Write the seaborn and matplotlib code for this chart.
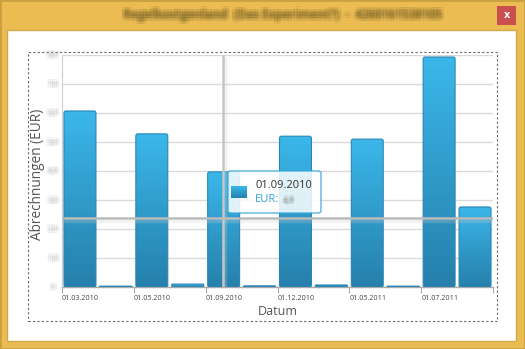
import numpy as np
import pandas as pd
import matplotlib
matplotlib.use("Agg")
import matplotlib.pyplot as plt
import matplotlib.transforms as mtransforms
import matplotlib.patheffects as pe
from matplotlib.patches import FancyBboxPatch, Rectangle
from matplotlib.colors import LinearSegmentedColormap
import seaborn as sns

# ---- data ----
dates = ["01.03.2010", "01.04.2010", "01.05.2010", "01.08.2010", "01.09.2010", "01.11.2010",
         "01.12.2010", "01.02.2011", "01.05.2011", "01.06.2011", "01.07.2011", "01.08.2011"]
values = [6.07, 0.03, 5.28, 0.10, 3.97, 0.04, 5.20, 0.07, 5.10, 0.03, 7.93, 2.76]
ytick_values = [0, 1, 2, 3, 4, 5, 6, 7, 8]
ytick_labels = ["0", "1,0", "2,0", "3,0", "4,0", "5,0", "6,0", "7,0", "8,0"]
title_text = "Regelkostgenland  (Das Experiment?)  -  4260161538105"
ylabel = "Abrechnungen (EUR)"
xlabel = "Datum"
tooltip_date = "01.09.2010"
tooltip_label = "EUR:"
tooltip_value = "4,0"

sns.set_style("white")
plt.rcParams["font.family"] = ["Open Sans", "DejaVu Sans"]

W, H = 525, 349
fig = plt.figure(figsize=(W / 100, H / 100), dpi=100)
fig.patch.set_facecolor("#EBBC52")


def fx(x):
    return x / W


def fy(y):
    return 1 - y / H


def blur_text(x, y, s, color, size, ha="center", va="center", spread=1.6, weight="bold",
              n=4, alpha=0.09, zorder=3):
    base = fig.transFigure
    offs = np.linspace(-spread, spread, n)
    for dx in offs:
        for dy in offs:
            t = mtransforms.offset_copy(base, fig=fig, x=dx, y=dy, units="dots")
            fig.text(fx(x), fy(y), s, transform=t, color=color, fontsize=size, ha=ha, va=va,
                     alpha=alpha, weight=weight, zorder=zorder)


# window frame
fig.add_artist(Rectangle((0, 0), 1, 1, transform=fig.transFigure, fill=False,
                         edgecolor="#C9A040", lw=2, zorder=-10))
fig.add_artist(Rectangle((fx(7), fy(341)), fx(516) - fx(7), fy(30) - fy(341),
                         transform=fig.transFigure, facecolor="white", edgecolor="#D2A948",
                         lw=1, zorder=-9))
# close button
fig.add_artist(Rectangle((fx(497), fy(25)), fx(19), fy(6) - fy(25), transform=fig.transFigure,
                         facecolor="#C9504E", edgecolor="none", zorder=-8))
fig.text(fx(506.5), fy(15.5), "x", color="white", fontsize=7, ha="center", va="center",
         weight="bold", family="DejaVu Sans")
# blurred title
blur_text(283, 15, title_text, "#5a4a20", 8.5, spread=2.6, n=4, alpha=0.07)

# dashed plot frame
fig.add_artist(Rectangle((fx(28), fy(321)), fx(497) - fx(28), fy(52) - fy(321),
                         transform=fig.transFigure, fill=False, edgecolor="#666666",
                         lw=0.8, ls=(0, (2, 2)), zorder=-7))

# axes
ax = fig.add_axes([fx(62), fy(287), fx(493) - fx(62), fy(55) - fy(287)])
ax.set_facecolor("none")
df = pd.DataFrame({"Datum": dates, "EUR": values})
sns.barplot(data=df, x="Datum", y="EUR", ax=ax, width=0.89, color="#33A6DC",
            errorbar=None, zorder=3)
ax.set_xlim(-0.5, len(dates) - 0.5)
ax.set_ylim(0, 8)

cmap = LinearSegmentedColormap.from_list("bar", ["#2680AB", "#3BB7EA"])
grad = np.linspace(0, 1, 256).reshape(-1, 1)
for p in list(ax.patches):
    x0, w, h = p.get_x(), p.get_width(), p.get_height()
    p.set_visible(False)
    rs = 0.055 if h > 0.2 else 0.02
    fb = FancyBboxPatch((x0, 0), w, h, boxstyle=f"round,pad=0,rounding_size={rs}",
                        mutation_aspect=1.25, facecolor="none", edgecolor="#2A86B6",
                        lw=0.8, zorder=4)
    ax.add_patch(fb)
    clip = FancyBboxPatch((x0, 0), w, h, boxstyle=f"round,pad=0,rounding_size={rs}",
                          mutation_aspect=1.25, facecolor="none", edgecolor="none",
                          transform=ax.transData)
    ax.add_patch(clip)
    im = ax.imshow(grad, cmap=cmap, origin="lower", aspect="auto",
                   extent=(x0, x0 + w, 0, h), zorder=3.5)
    im.set_clip_path(clip)
ax.set_xlim(-0.5, len(dates) - 0.5)
ax.set_ylim(0, 8)

# grid
for v in ytick_values:
    ax.axhline(v, color="#DADADA", lw=1, zorder=1)
for s in ["top", "right"]:
    ax.spines[s].set_visible(False)
ax.spines["left"].set_color("#CCCCCC")
ax.spines["left"].set_linewidth(0.8)
ax.spines["bottom"].set_color("#AAAAAA")
ax.spines["bottom"].set_linewidth(1)

ticks = [i - 0.5 for i in range(0, len(dates), 2)]
ax.set_xticks(ticks + [len(dates) - 0.5])
ax.set_xticklabels(dates[::2] + [""], ha="left", fontsize=5.2, color="#444444")
ax.tick_params(axis="x", length=4, width=0.8, color="#AAAAAA", pad=2, bottom=True)
ax.set_yticks([])
ax.set_xlabel(xlabel, fontsize=9, color="#555555", labelpad=2)
ax.set_ylabel("")
fig.text(fx(38), fy(174), ylabel, rotation=90, fontsize=9.8, color="#555555",
         ha="center", va="center")

# blurred y tick labels
for v, lab in zip(ytick_values, ytick_labels):
    ypix = 287 - v * 29
    blur_text(53, ypix, lab, "#b8b8b8", 5.5, spread=1.8, n=3, alpha=0.12)

# crosshair with soft shadow
cx, cy = 3.97, 2.38
shadow = [pe.SimpleLineShadow(offset=(2, -2), shadow_color="#cccccc", alpha=0.25,
                              linewidth=2.5), pe.Normal()]
ax.axvline(cx, color="#C6C6C6", lw=1.8, zorder=6, path_effects=shadow)
ax.axhline(cy, color="#BBBBBB", lw=1.8, zorder=6, path_effects=shadow)

# tooltip
fig.add_artist(FancyBboxPatch((fx(228), fy(213)), fx(321) - fx(228), fy(171) - fy(213),
                              boxstyle="round,pad=0,rounding_size=0.006",
                              transform=fig.transFigure, facecolor="white", alpha=0.85,
                              edgecolor="#3BA8DA", lw=1, zorder=10))
icon = fig.add_axes([fx(231), fy(198), fx(16), fy(186) - fy(198)], zorder=11)
icon.imshow(grad, cmap=cmap, origin="lower", aspect="auto")
icon.axis("off")
fig.text(fx(255), fy(185), tooltip_date, fontsize=8, color="#333333", ha="left", va="center",
         zorder=12)
fig.text(fx(255), fy(200), tooltip_label, fontsize=8, color="#2FA3DA", ha="left", va="center",
         zorder=12)
blur_text(283, 200, tooltip_value, "#999999", 6, ha="left", spread=1.2, n=3, alpha=0.15,
          zorder=12)

fig.savefig("out.png", dpi=100, facecolor=fig.get_facecolor())
